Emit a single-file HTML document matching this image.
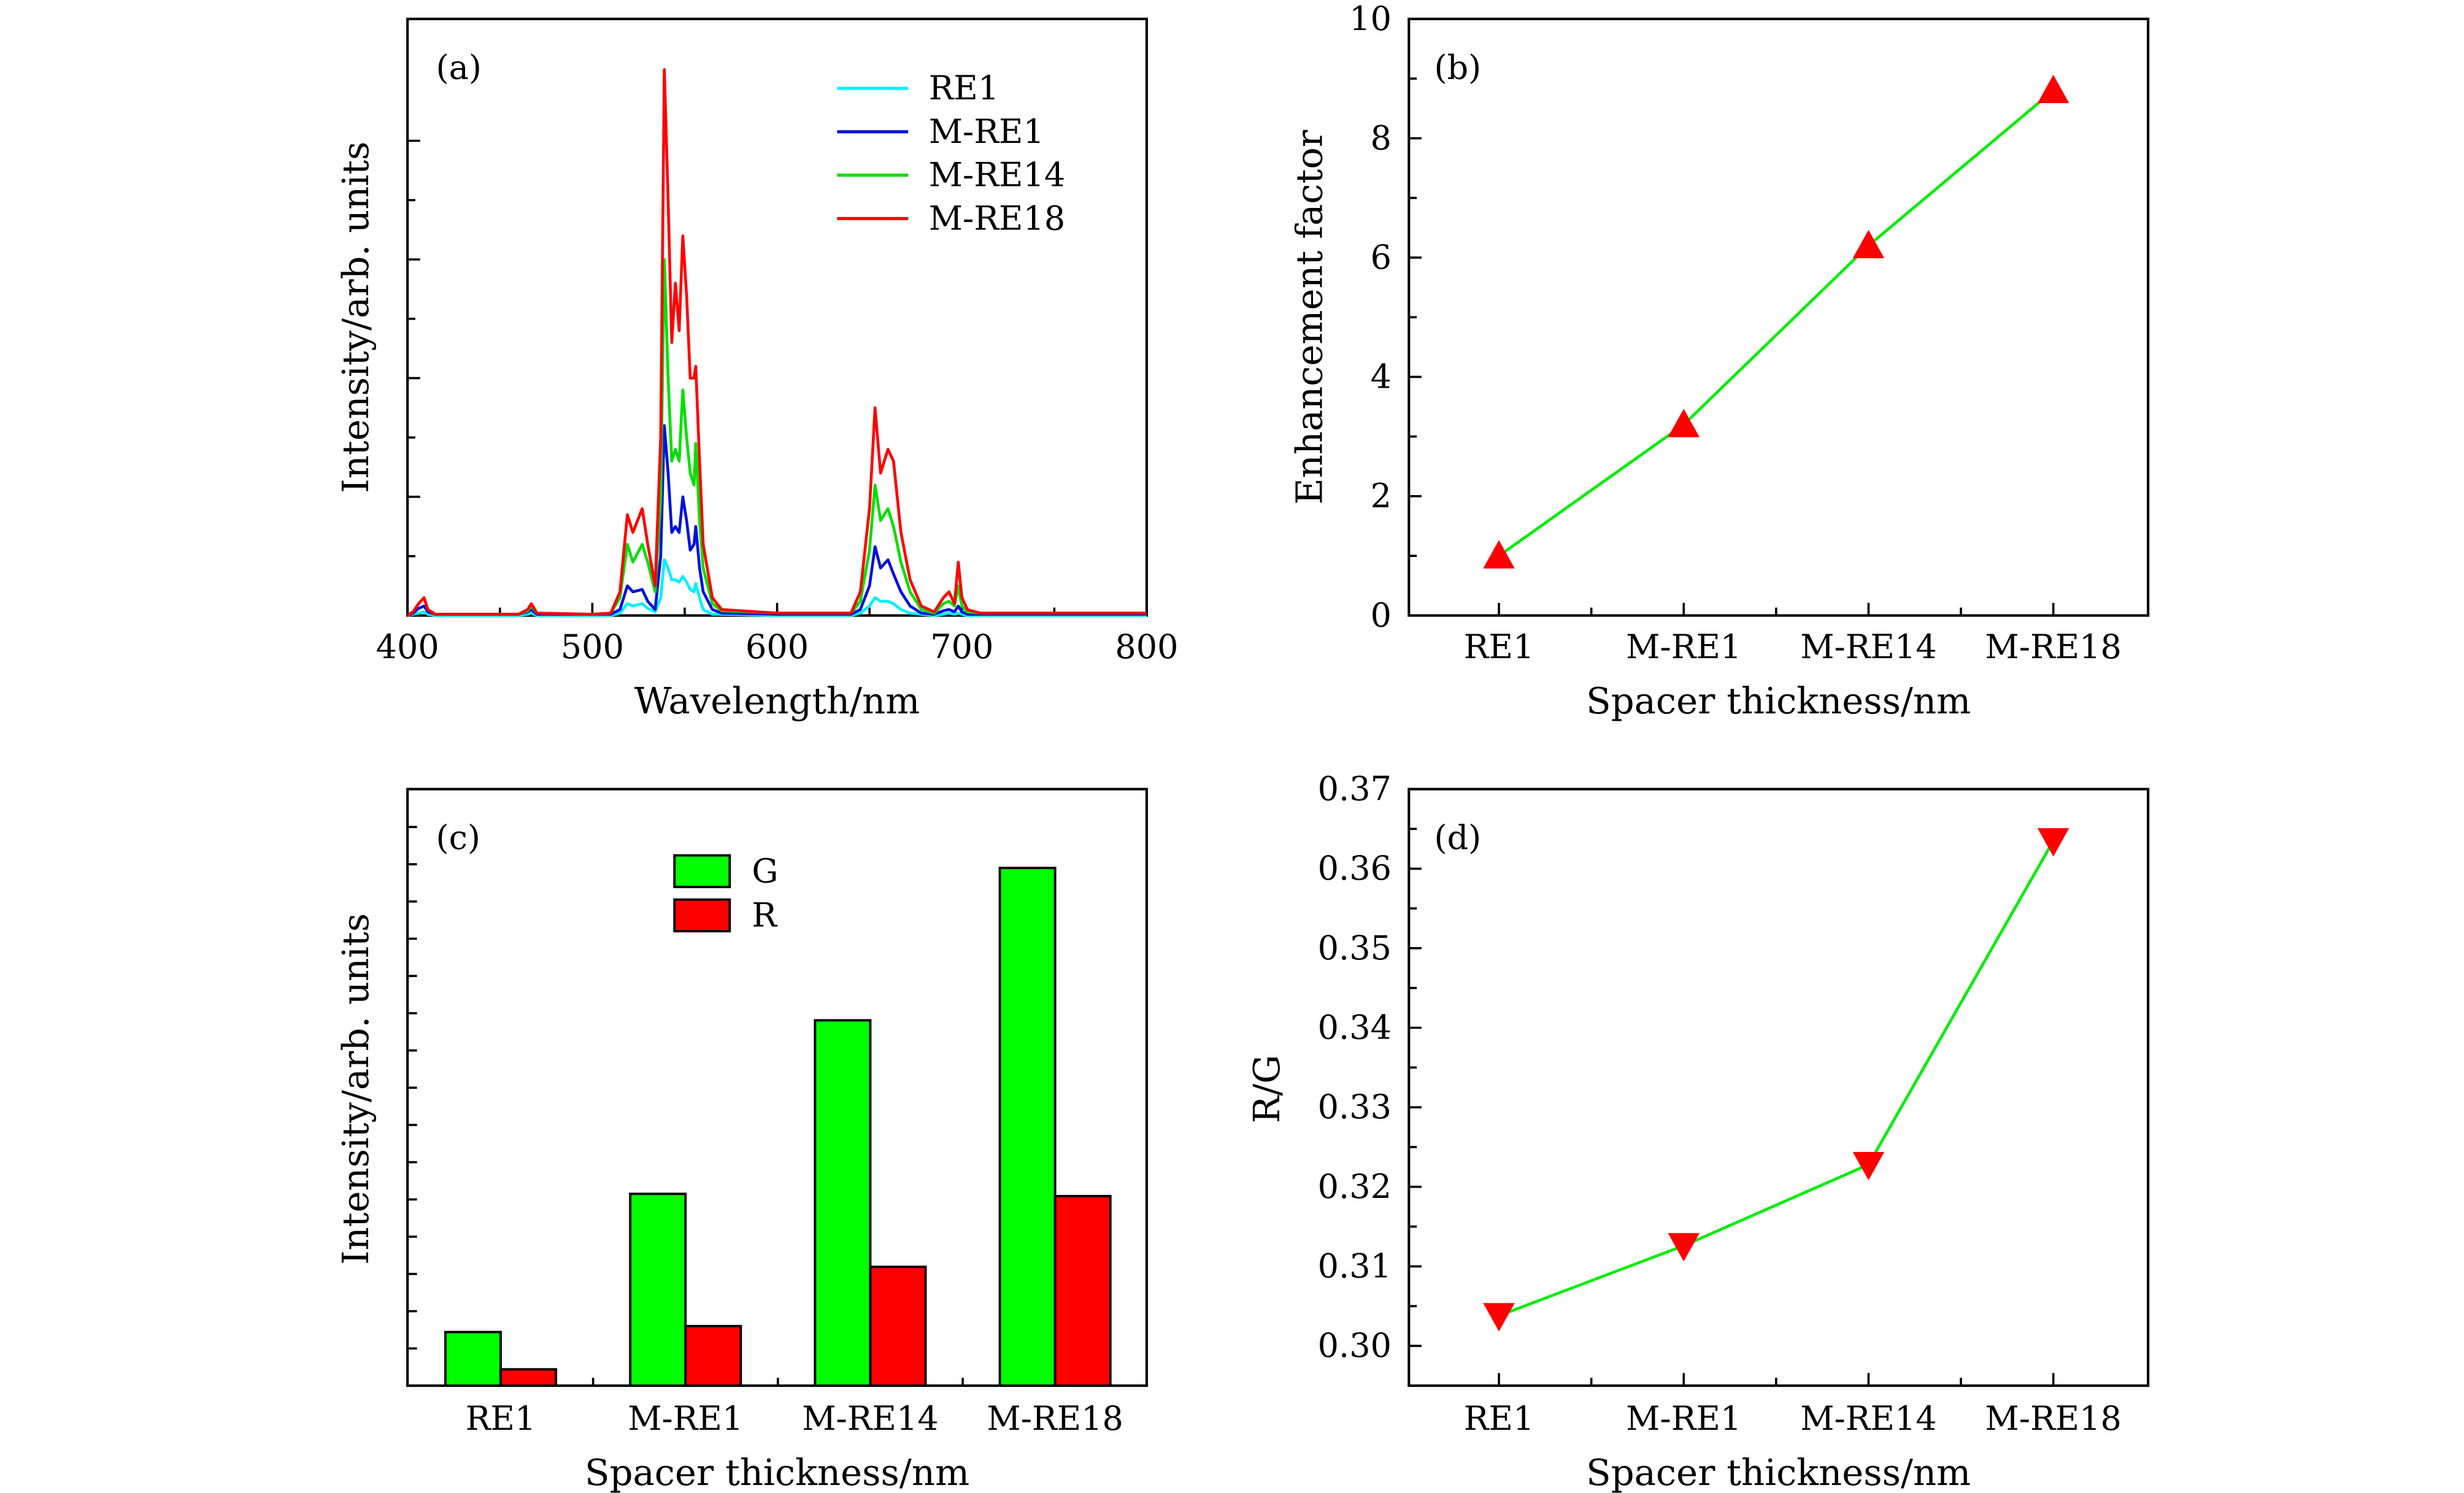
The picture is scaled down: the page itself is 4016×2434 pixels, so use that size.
<!DOCTYPE html>
<html><head><meta charset="utf-8"><style>
html,body{margin:0;padding:0;background:#fff}
svg{display:block}
text{font-family:"DejaVu Serif","Liberation Serif",serif;fill:#000}
</style></head><body>
<svg id="fig" width="4016" height="2434" viewBox="0 0 1560 946" preserveAspectRatio="none" xmlns="http://www.w3.org/2000/svg"></svg>
<script>
// ---- Panel (a) spectrum data ----
const wavelengths=[400,403,406,409,411,415,460,465,467,470,500,510,515,519,522,527,530,534,537,539,541,543,545,547,549,551,553,555,556,558,560,565,570,600,640,645,650,653,656,660,663,667,672,678,685,690,693,696,698,700,703,710,800];
const specRE18=[0,0.03,0.1,0.15,0.05,0.01,0.01,0.05,0.1,0.02,0.01,0.02,0.2,0.85,0.7,0.9,0.6,0.25,1.5,4.6,3.5,2.3,2.8,2.4,3.2,2.7,2.0,2.0,2.1,1.3,0.6,0.15,0.05,0.02,0.02,0.2,0.9,1.75,1.2,1.4,1.3,0.7,0.3,0.08,0.03,0.15,0.2,0.1,0.45,0.15,0.05,0.02,0.02];
const specRE14=[0,0.03,0.1,0.15,0.05,0.01,0.01,0.04,0.08,0.02,0.01,0.02,0.15,0.6,0.45,0.6,0.45,0.2,1.0,3.0,2.0,1.3,1.4,1.3,1.9,1.5,1.2,1.1,1.45,0.8,0.4,0.1,0.04,0.02,0.02,0.12,0.55,1.1,0.8,0.9,0.75,0.45,0.2,0.05,0.02,0.1,0.12,0.08,0.25,0.08,0.03,0.02,0.02];
const specMRE1=[0,0.02,0.06,0.08,0.03,0.01,0.01,0.03,0.05,0.01,0.01,0.01,0.05,0.25,0.2,0.22,0.12,0.05,0.5,1.6,1.2,0.7,0.75,0.7,1.0,0.8,0.55,0.6,0.75,0.4,0.2,0.05,0.02,0.01,0.01,0.05,0.25,0.58,0.4,0.47,0.35,0.2,0.08,0.02,0.01,0.04,0.05,0.03,0.08,0.03,0.01,0.01,0.01];
const specRE1=[0,0.01,0.02,0.03,0.01,0,0,0.01,0.02,0,0,0,0.02,0.1,0.08,0.1,0.06,0.03,0.15,0.47,0.4,0.3,0.3,0.28,0.33,0.28,0.22,0.2,0.27,0.15,0.05,0.01,0.01,0,0,0.02,0.08,0.15,0.12,0.12,0.1,0.05,0.02,0.01,0,0.01,0.02,0.01,0.02,0.01,0,0,0];
const specNames=["RE1","M-RE1","M-RE14","M-RE18"];
const xTicksA=[400,500,600,700,800];
// ---- Panels b,c,d ----
const categories=["RE1","M-RE1","M-RE14","M-RE18"];
const enhancement=[1.0,3.2,6.2,8.8];
const enhTicks=[0,2,4,6,8,10];
const barG=[1.44,5.15,9.81,13.9];
const barR=[0.44,1.6,3.19,5.09];
const ratioRG=[0.3038,0.3126,0.3228,0.3635];
const ratioTicks=["0.30","0.31","0.32","0.33","0.34","0.35","0.36","0.37"];

const NS="http://www.w3.org/2000/svg";
const svg=document.getElementById('fig');
function el(tag,attrs,parent,txt){const e=document.createElementNS(NS,tag);for(const k in attrs)e.setAttribute(k,attrs[k]);if(txt!==undefined)e.textContent=txt;(parent||svg).appendChild(e);return e;}
const FS=21;
const TS=23;

function frame(g,x0,y0,x1,y1){
  const r=el('rect',{x:x0,y:y0,width:x1-x0,height:y1-y0,fill:'none',stroke:'#000','stroke-width':1.6},g);
  
  
}
function tick(g,x1,y1,x2,y2){el('line',{x1,y1,x2,y2,stroke:'#000','stroke-width':1.4},g);}
function txt(g,x,y,s,anchor,name,size,rot){
  const a={x,y,'font-size':size||FS,'text-anchor':anchor||'middle'};
  if(rot)a.transform=`rotate(-90 ${x} ${y})`;
  const t=el('text',a,g,s);
  
  
  return t;
}

// ===== Panel (a) =====
{
  const g=el('g',{});
  
  
  const L=258,R=726,T=12,B=390;
  const xs=w=>L+(w-400)/400*(R-L);
  const ys=v=>B-v*75.2;
  frame(g,L,T,R,B);
  for(let w=400;w<=800;w+=50){tick(g,xs(w),B,xs(w),B-(w%100===0?8:5));}
  for(let k=1;k<=4;k++){tick(g,L,ys(k),L+8,ys(k));tick(g,L,ys(k-0.5),L+5,ys(k-0.5));}
  xTicksA.forEach(v=>txt(g,xs(v),417,String(v),'middle','x-tick-label'));
  txt(g,492,452,'Wavelength/nm','middle','x-axis-title',TS);
  txt(g,233,201,'Intensity/arb. units','middle','y-axis-title',TS,true);
  txt(g,276,50,'(a)','start','panel-label');
  const series=[[specRE1,'#00f0ff'],[specMRE1,'#0010e0'],[specRE14,'#00e000'],[specRE18,'#ff0000']];
  series.forEach((s,i)=>{
    const d=wavelengths.map((w,j)=>(j?'L':'M')+xs(w).toFixed(1)+','+ys(s[0][j]).toFixed(1)).join(' ');
    const p=el('path',{d,fill:'none',stroke:s[1],'stroke-width':1.8,'stroke-linejoin':'round'},g);
    
    
    const ly=56+i*27.5;
    const ll=el('line',{x1:530,y1:ly,x2:575,y2:ly,stroke:s[1],'stroke-width':2},g);
    
    
    txt(g,588,ly+7,specNames[i],'start','legend-entry');
  });
}

function catPanel(){
  const g=el('g',{});
  
  return g;
}

// ===== Panel (b) =====
{
  const g=catPanel();
  
  const L=892,R=1360,T=12,B=390;
  const xc=i=>949+i*117;
  const ys=v=>B-v/10*(B-T);
  frame(g,L,T,R,B);
  for(let i=0;i<4;i++){tick(g,xc(i),B,xc(i),B-8);if(i<3)tick(g,xc(i)+58.5,B,xc(i)+58.5,B-5);}
  for(let v=1;v<10;v++)tick(g,L,ys(v),L+(v%2===0?8:5),ys(v));
  enhTicks.forEach(v=>txt(g,881,ys(v)+7,String(v),'end','y-tick-label'));
  categories.forEach((c,i)=>txt(g,xc(i),417,c,'middle','x-tick-label'));
  txt(g,1126,452,'Spacer thickness/nm','middle','x-axis-title',TS);
  txt(g,837,201,'Enhancement factor','middle','y-axis-title',TS,true);
  txt(g,908,50,'(b)','start','panel-label');
  const pts=enhancement.map((v,i)=>xc(i)+','+ys(v));
  const pl=el('polyline',{points:pts.join(' '),fill:'none',stroke:'#00ee00','stroke-width':1.8},g);
  
  
  enhancement.forEach((v,i)=>{
    const x=xc(i),y=ys(v);
    const m=el('polygon',{points:`${x},${y-10} ${x-10},${y+8} ${x+10},${y+8}`,fill:'#ff0000'},g);
    
    
  });
}

// ===== Panel (c) =====
{
  const g=catPanel();
  
  const L=258,R=726,T=500,B=878;
  const xc=i=>317+i*117;
  const ys=v=>B-v*23.6;
  frame(g,L,T,R,B);
  for(let i=0;i<3;i++)tick(g,xc(i)+58.5,B,xc(i)+58.5,B-5);
  for(let k=1;k<=15;k++)tick(g,L,ys(k),L+6,ys(k));
  categories.forEach((c,i)=>{
    const bg=el('rect',{x:xc(i)-35,y:ys(barG[i]),width:35,height:B-ys(barG[i]),fill:'#00ff00',stroke:'#000','stroke-width':1.5},g);
    
    
    const br=el('rect',{x:xc(i),y:ys(barR[i]),width:35,height:B-ys(barR[i]),fill:'#ff0000',stroke:'#000','stroke-width':1.5},g);
    
    
    txt(g,xc(i),906,c,'middle','x-tick-label');
  });
  txt(g,492,941,'Spacer thickness/nm','middle','x-axis-title',TS);
  txt(g,233,690,'Intensity/arb. units','middle','y-axis-title',TS,true);
  txt(g,276,538,'(c)','start','panel-label');
  [['G','#00ff00',552],['R','#ff0000',580]].forEach(a=>{
    const r=el('rect',{x:427,y:a[2]-10,width:35,height:20,fill:a[1],stroke:'#000','stroke-width':1.5},g);
    
    
    txt(g,476,a[2]+7,a[0],'start','legend-entry');
  });
}

// ===== Panel (d) =====
{
  const g=catPanel();
  
  const L=892,R=1360,T=500,B=878;
  const xc=i=>949+i*117;
  const ys=v=>T+(0.37-v)/0.075*(B-T);
  frame(g,L,T,R,B);
  for(let i=0;i<4;i++){tick(g,xc(i),B,xc(i),B-8);if(i<3)tick(g,xc(i)+58.5,B,xc(i)+58.5,B-5);}
  for(let k=0;k<15;k++){const v=0.295+k*0.005;tick(g,L,ys(v),L+(k%2===1?8:5),ys(v));}
  ratioTicks.forEach(s=>txt(g,881,ys(parseFloat(s))+7,s,'end','y-tick-label'));
  categories.forEach((c,i)=>txt(g,xc(i),906,c,'middle','x-tick-label'));
  txt(g,1126,941,'Spacer thickness/nm','middle','x-axis-title',TS);
  txt(g,810,690,'R/G','middle','y-axis-title',TS,true);
  txt(g,908,538,'(d)','start','panel-label');
  const pl=el('polyline',{points:ratioRG.map((v,i)=>xc(i)+','+ys(v)).join(' '),fill:'none',stroke:'#00ee00','stroke-width':1.8},g);
  
  
  ratioRG.forEach((v,i)=>{
    const x=xc(i),y=ys(v);
    const m=el('polygon',{points:`${x-10},${y-8} ${x+10},${y-8} ${x},${y+10}`,fill:'#ff0000'},g);
    
    
  });
}
</script>
</body></html>
